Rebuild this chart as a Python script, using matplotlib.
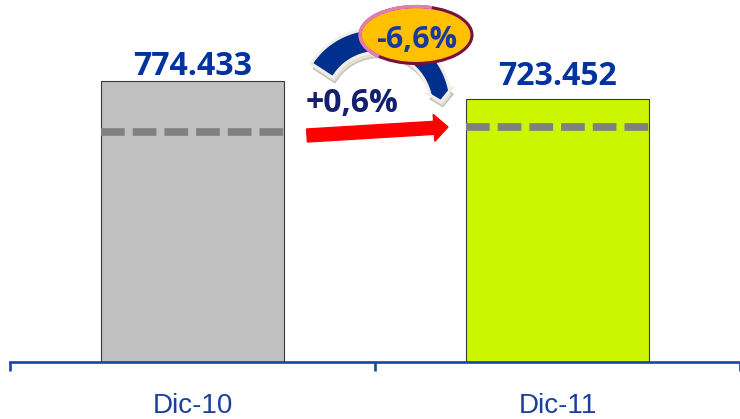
import numpy as np
import matplotlib
matplotlib.use("Agg")
import matplotlib.pyplot as plt
from matplotlib.patches import FancyArrow, Polygon, Ellipse, Arc
from matplotlib.transforms import Affine2D

# data
categories = ["Dic-10", "Dic-11"]
totals = [774433, 723452]
dashed_levels = [635000, 648000]
growth_label = "+0,6%"
drop_label = "-6,6%"

bar_colors = ["#C0C0C0", "#CCF500"]
label_offsets = [4.5, 10.5]          # points above bar top

W, H = 740, 419
fig = plt.figure(figsize=(W / 100, H / 100), dpi=100)
ax = fig.add_axes([10 / W, (H - 362) / H, (W - 10) / W, 362 / H])

# pixel transform (image coords, y down) for the decorations
px = Affine2D().scale(1, -1).translate(0, H)

x = np.arange(len(categories))
ax.bar(x, totals, width=0.5, color=bar_colors, edgecolor="#3a3a3a",
       linewidth=0.8, zorder=2)
ax.hlines(dashed_levels, x - 0.25, x + 0.25, colors="#808080", linewidth=5.5,
          linestyles=[(0, (3.1, 1.05))], zorder=3)

for xi, v, off in zip(x, totals, label_offsets):
    ax.annotate(f"{v:,}".replace(",", "."), xy=(xi, v), xytext=(0, off),
                textcoords="offset points", ha="center", va="baseline",
                fontsize=23, fontweight="bold", family="Open Sans",
                color="#0033A0")

ax.set_xlim(-0.5, -0.5 + 730 / 370)
ax.set_ylim(0, totals[0] * 362 / 281)

for s in ["left", "right", "top"]:
    ax.spines[s].set_visible(False)
ax.spines["bottom"].set_color("#1746A2")
ax.spines["bottom"].set_linewidth(1.9)
ax.set_yticks([])
ax.set_xticks([-0.5, 0.5, 1.5])
ax.set_xticklabels([])
ax.set_xticks(x, minor=True)
ax.set_xticklabels(categories, minor=True)
ax.tick_params(axis="x", which="major", length=6.5, width=1.9,
               color="#1746A2", direction="out")
ax.tick_params(axis="x", which="minor", length=0, pad=22, labelsize=20,
               labelcolor="#1A3F9F")
for lab in ax.get_xticklabels(minor=True):
    lab.set_family("Liberation Sans")

# red growth arrow
fig.add_artist(FancyArrow(307, 135.5, 141, -8.5, width=13, head_width=27,
                          head_length=14, length_includes_head=True,
                          color="#FF0000", transform=px, zorder=5))
fig.text(352.5, 112, growth_label, transform=px, ha="center", va="baseline",
         fontsize=23, fontweight="bold", family="Open Sans", color="#14206B")

# curved blue arrow
cx, cy = 375, 105
th = np.radians(np.linspace(147, 12, 80))
r_out = 76
r_in = np.linspace(50, 56, 80)
outer = np.column_stack([cx + r_out * np.cos(th), cy - r_out * np.sin(th)])
inner = np.column_stack([cx + r_in * np.cos(th), cy - r_in * np.sin(th)])
t0, tt = np.radians(12), np.radians(3)
head = np.array([
    [cx + (r_out + 2) * np.cos(t0), cy - (r_out + 2) * np.sin(t0)],
    [cx + 66 * np.cos(tt), cy - 66 * np.sin(tt)],
    [cx + (r_in[-1] - 2) * np.cos(t0), cy - (r_in[-1] - 2) * np.sin(t0)],
])
band = np.vstack([outer, head, inner[::-1]])
fig.add_artist(Polygon(band + [2, 5], closed=True, facecolor="#E2E0D4",
                       edgecolor="#C4C2B6", linewidth=1, transform=px, zorder=4))
fig.add_artist(Polygon(band, closed=True, facecolor="#002F8E",
                       edgecolor="#F0EFE8", linewidth=2.2, joinstyle="miter",
                       transform=px, zorder=4))

# yellow badge
fig.add_artist(Ellipse((416, 35), 112, 57, facecolor="#FFC000",
                       edgecolor="#7A1040", linewidth=2.2, transform=px, zorder=6))
fig.add_artist(Arc((416, 35), 112, 57, theta1=150, theta2=300,
                   color="#E57DB2", linewidth=2.4, transform=px, zorder=6))
fig.text(417, 48, drop_label, transform=px, ha="center", va="baseline",
         fontsize=22, fontweight="bold", family="Open Sans", color="#1A3A9A",
         zorder=7)

fig.savefig("out.png", dpi=100)
